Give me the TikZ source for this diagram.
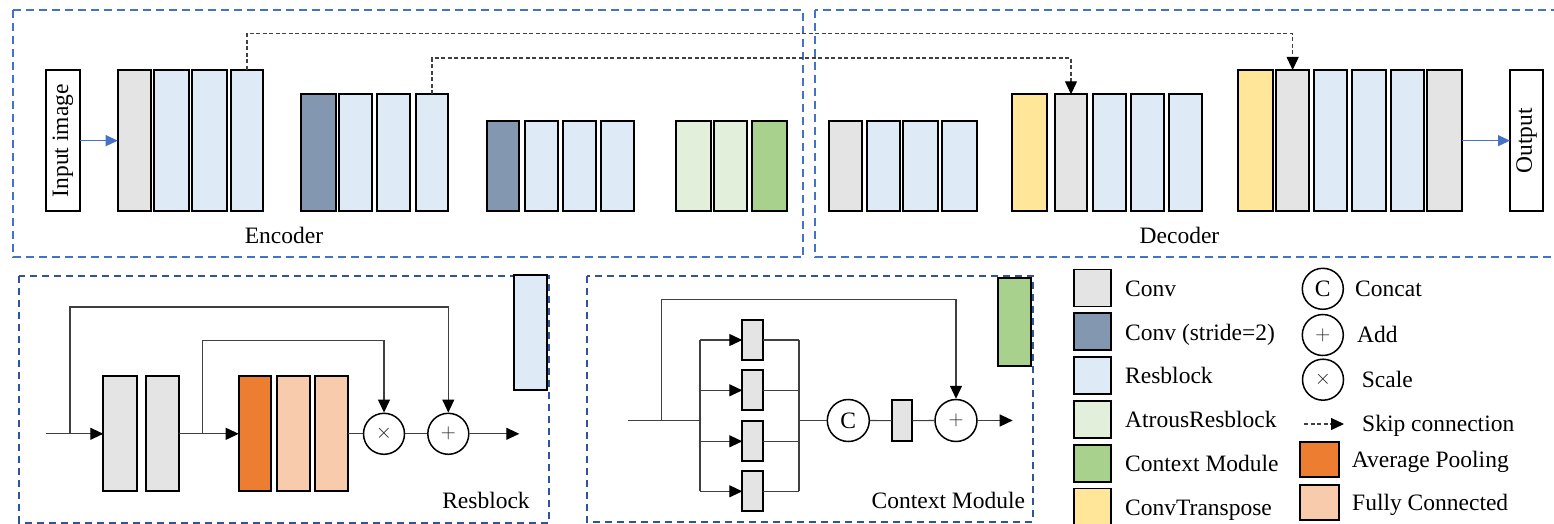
\documentclass[tikz,border=0pt]{standalone}
\usepackage{fontspec}
\setmainfont{Liberation Serif}
\usetikzlibrary{arrows.meta}

\definecolor{convgray}{RGB}{228,228,228}
\definecolor{stridec}{RGB}{132,151,176}
\definecolor{resblue}{RGB}{222,235,247}
\definecolor{atrousg}{RGB}{226,239,218}
\definecolor{ctxgreen}{RGB}{169,209,142}
\definecolor{tconvy}{RGB}{255,230,153}
\definecolor{poolor}{RGB}{237,125,49}
\definecolor{fcpeach}{RGB}{248,203,173}
\definecolor{frameblue}{RGB}{68,114,196}
\definecolor{paneblue}{RGB}{47,85,151}
\definecolor{flowblue}{RGB}{68,114,196}
\definecolor{wirec}{RGB}{64,64,64}

% block: name, x1, y1, x2, y2, style   (y grows downwards)
\newcommand\blk[6]{%
  \pgfmathsetmacro\bkw{#4-#2}\pgfmathsetmacro\bkh{#5-#3}%
  \pgfmathsetmacro\bkx{(#2+#4)/2}\pgfmathsetmacro\bky{(#3+#5)/2}%
  \node[#6,minimum width=\bkw pt,minimum height=\bkh pt] (#1) at (\bkx,\bky) {};}

\begin{document}
\begin{tikzpicture}[x=1pt,y=-1pt,
  txt/.style={font=\fontsize{23.5}{28}\selectfont,inner sep=0pt},
  blkbase/.style={draw=black,line width=1.7pt,inner sep=0pt,outer sep=0pt},
  conv/.style={blkbase,fill=convgray},
  strd/.style={blkbase,fill=stridec},
  res/.style={blkbase,fill=resblue},
  atr/.style={blkbase,fill=atrousg},
  ctx/.style={blkbase,fill=ctxgreen},
  tconv/.style={blkbase,fill=tconvy},
  pool/.style={blkbase,fill=poolor},
  fc/.style={blkbase,fill=fcpeach},
  iobox/.style={blkbase,fill=white},
  frame/.style={draw=frameblue,line width=2.2pt,dash pattern=on 8pt off 5pt},
  pane/.style={draw=paneblue,line width=2pt,dash pattern=on 7pt off 5pt},
  tip/.style={-{Triangle[length=13pt,width=12pt,color=black]}},
  skipc/.style={draw=wirec,line width=1.1pt,dash pattern=on 4pt off 2.5pt,tip},
  flow/.style={draw=flowblue,line width=1.2pt,-{Triangle[length=12pt,width=11pt]}},
  wire/.style={draw=wirec,line width=1.1pt},
  arr/.style={wire,tip},
  op/.style={circle,draw=black,line width=1.5pt,fill=white,inner sep=0pt,minimum size=41pt},
  sym/.style={font=\fontsize{20}{22}\selectfont,text=black!85}
]
\useasboundingbox (0,0) rectangle (1554,524);

% ---------- frames ----------
\draw[frame] (13,10) rectangle (803,257.3);
\draw[frame] (815,10) rectangle (1557,257.3);
\draw[pane] (19.3,276) rectangle (549.3,522.7);
\draw[pane] (587.3,276) rectangle (1032.7,522);

% ---------- encoder ----------
\blk{inp}{45.7}{70}{80}{211.3}{iobox}
\node[txt,rotate=90] at (inp.center) {Input image};

\blk{e1}{117.7}{70}{150.7}{211.3}{conv}
\blk{e2}{154}{70}{189}{211.3}{res}
\blk{e3}{192.3}{70}{227.3}{211.3}{res}
\blk{e4}{230.7}{70}{263.3}{211.3}{res}

\blk{e5}{301}{94.3}{336}{211.3}{strd}
\blk{e6}{339.3}{94.3}{372.3}{211.3}{res}
\blk{e7}{377.3}{94.3}{410.3}{211.3}{res}
\blk{e8}{415.7}{94.3}{448.3}{211.3}{res}

\blk{e9}{486.7}{120.7}{519.3}{211.3}{strd}
\blk{e10}{524.7}{120.7}{557.7}{211.3}{res}
\blk{e11}{563}{120.7}{596}{211.3}{res}
\blk{e12}{601.3}{120.7}{634.3}{211.3}{res}

\blk{e13}{675.7}{120.7}{710.7}{211.3}{atr}
\blk{e14}{714}{120.7}{747}{211.3}{atr}
\blk{e15}{752.3}{120.7}{787.3}{211.3}{ctx}

\node[txt,anchor=base] at (284,243) {Encoder};

% ---------- decoder ----------
\blk{d1}{829}{120.7}{861.7}{211.3}{conv}
\blk{d2}{867}{120.7}{900}{211.3}{res}
\blk{d3}{903.3}{120.7}{938.3}{211.3}{res}
\blk{d4}{941.7}{120.7}{976.7}{211.3}{res}

\blk{d5}{1012.3}{94.3}{1046.7}{211.3}{tconv}
\blk{d6}{1054.7}{94.3}{1087.3}{211.3}{conv}
\blk{d7}{1092.7}{94.3}{1125.7}{211.3}{res}
\blk{d8}{1130.7}{94.3}{1164}{211.3}{res}
\blk{d9}{1169}{94.3}{1202.3}{211.3}{res}

\blk{d10}{1238}{70}{1272.7}{211.3}{tconv}
\blk{d11}{1276}{70}{1309.3}{211.3}{conv}
\blk{d12}{1314}{70}{1347.3}{211.3}{res}
\blk{d13}{1352.3}{70}{1385.7}{211.3}{res}
\blk{d14}{1390.7}{70}{1424}{211.3}{res}
\blk{d15}{1427.3}{70}{1462.3}{211.3}{conv}

\blk{outp}{1510}{70}{1543}{211.3}{iobox}
\node[txt,rotate=90] at (outp.center) {Output};

\node[txt,anchor=base] at (1179.5,243) {Decoder};

% ---------- main flow and skip connections ----------
\draw[flow] (inp.east) -- (inp.east -| e1.west);
\draw[flow] (d15.east) -- (d15.east -| outp.west);

\coordinate (sk1) at (0,33.7);
\coordinate (sk2) at (0,58);
\draw[skipc] (e4.north) -- (e4.north |- sk1) -| (d11.north);
\draw[skipc] (e8.north) -- (e8.north |- sk2) -| (d6.north);

% ---------- Resblock detail ----------
\blk{r1}{103.3}{376.3}{136.7}{491.3}{conv}
\blk{r2}{145.7}{376.3}{179}{491.3}{conv}
\blk{ra}{238.7}{376.3}{271}{491.3}{pool}
\blk{rf1}{276.7}{376.3}{310}{491.3}{fc}
\blk{rf2}{315.3}{376.3}{348.3}{491.3}{fc}
\node[op] (rmul) at (384,433.8) {};
\node[sym] at (rmul.center) {$\times$};
\node[op] (radd) at (448.3,433.8) {};
\node[sym] at (radd.center) {$+$};

\coordinate (rin) at (46,433.8);
\coordinate (rout) at (519.3,433.8);
\coordinate (rsk1) at (70,433.8);
\coordinate (rsk2) at (202.3,433.8);
\coordinate (rtop1) at (0,307);
\coordinate (rtop2) at (0,340.7);

\draw[arr] (rin) -- (r1.west);
\draw[arr] (r2.east) -- (ra.west);
\draw[wire] (rf2.east) -- (rmul.west);
\draw[wire] (rmul.east) -- (radd.west);
\draw[arr] (radd.east) -- (rout);
\draw[arr] (rsk1) -- (rsk1 |- rtop1) -| (radd.north);
\draw[arr] (rsk2) -- (rsk2 |- rtop2) -| (rmul.north);

\blk{rb}{514.3}{275.3}{547.3}{390.3}{res}
\node[txt,anchor=base] at (486,508) {Resblock};

% ---------- Context Module detail ----------
\blk{k1}{742.3}{319.7}{762.7}{360.3}{conv}
\blk{k2}{742.3}{370.3}{762.7}{410.3}{conv}
\blk{k3}{742.3}{421.3}{762.7}{461.3}{conv}
\blk{k4}{742.3}{471.3}{762.7}{511.3}{conv}
\node[op,minimum size=42pt] (cc) at (848.3,420.5) {};
\node[txt] at (cc.center) {C};
\blk{cs}{891.7}{400.3}{912.3}{441}{conv}
\node[op,minimum size=42pt] (cadd) at (956,420.5) {};
\node[sym] at (cadd.center) {$+$};

\coordinate (cin) at (628.3,420.5);
\coordinate (csk) at (661.7,420.5);
\coordinate (bl) at (700,420.5);
\coordinate (br) at (799,420.5);
\coordinate (cout) at (1012.7,420.5);
\coordinate (ctop) at (0,299.7);

\draw[wire] (cin) -- (bl);
\draw[wire] (k1.west -| bl) -- (k4.west -| bl);
\draw[wire] (k1.east -| br) -- (k4.east -| br);
\foreach \k in {k1,k2,k3,k4}{
  \draw[arr] (\k.west -| bl) -- (\k.west);
  \draw[wire] (\k.east) -- (\k.east -| br);
}
\draw[wire] (br) -- (cc.west);
\draw[wire] (cc.east) -- (cs.west);
\draw[wire] (cs.east) -- (cadd.west);
\draw[arr] (cadd.east) -- (cout);
\draw[arr] (csk) -- (csk |- ctop) -| (cadd.north);

\blk{cg}{998.3}{277.7}{1030.7}{366.3}{ctx}
\node[txt,anchor=base] at (948.3,508.5) {Context Module};

% ---------- legend ----------
\blk{l1}{1074.3}{269.5}{1111}{306.5}{conv}
\blk{l2}{1074.3}{313.3}{1111}{350.3}{strd}
\blk{l3}{1074.3}{357.1}{1111}{394.1}{res}
\blk{l4}{1074.3}{400.9}{1111}{437.9}{atr}
\blk{l5}{1074.3}{444.7}{1111}{481.7}{ctx}
\blk{l6}{1074.3}{488.5}{1111}{525.5}{tconv}
\node[txt,anchor=base west] at (1125,296) {Conv};
\node[txt,anchor=base west] at (1125,340) {Conv (stride=2)};
\node[txt,anchor=base west] at (1125,383.5) {Resblock};
\node[txt,anchor=base west] at (1125,427) {AtrousResblock};
\node[txt,anchor=base west] at (1125,471) {Context Module};
\node[txt,anchor=base west] at (1125,515) {ConvTranspose};

\node[op] (lc) at (1322.8,288.8) {};
\node[txt] at (lc.center) {C};
\node[op] (la) at (1322.8,335) {};
\node[sym] at (la.center) {$+$};
\node[op] (ls) at (1323,379.7) {};
\node[sym] at (ls.center) {$\times$};
\node[txt,anchor=base west] at (1355,296) {Concat};
\node[txt,anchor=base west] at (1357,342.5) {Add};
\node[txt,anchor=base west] at (1361.7,387.5) {Scale};

\coordinate (lsa) at (1304,424);
\coordinate (lsb) at (1344,424);
\draw[skipc] (lsa) -- (lsb);
\node[txt,anchor=base west] at (1362,431) {Skip connection};

\blk{lp}{1300}{441.7}{1338.7}{476.7}{pool}
\blk{lf}{1300}{485}{1338.7}{520}{fc}
\node[txt,anchor=base west] at (1351.7,467) {Average Pooling};
\node[txt,anchor=base west] at (1352,510) {Fully Connected};
\end{tikzpicture}
\end{document}
